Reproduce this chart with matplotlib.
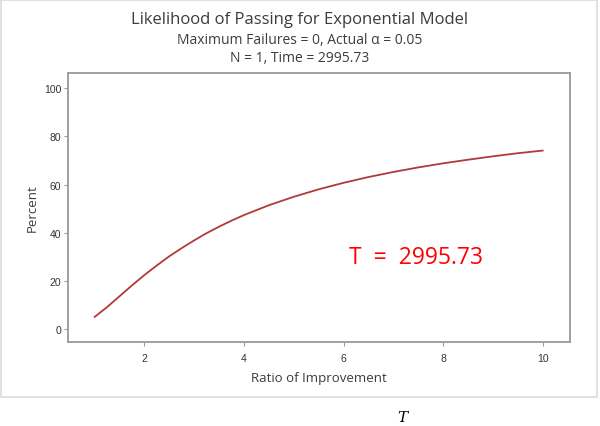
import matplotlib
matplotlib.use('Agg')
import matplotlib.pyplot as plt
from matplotlib.patches import Rectangle

ratio = [1.0, 1.25, 1.5, 1.75, 2.0, 2.25, 2.5, 2.75, 3.0, 3.25, 3.5, 3.75, 4.0,
         4.5, 5.0, 5.5, 6.0, 6.5, 7.0, 7.5, 8.0, 8.5, 9.0, 9.5, 10.0]
percent = [5.0, 9.1, 13.6, 18.1, 22.4, 26.4, 30.2, 33.6, 36.8, 39.8, 42.5, 45.0, 47.3,
           51.4, 54.9, 58.0, 60.7, 63.1, 65.2, 67.1, 68.8, 70.3, 71.7, 73.0, 74.1]
x_ticks = [2, 4, 6, 8, 10]
y_ticks = [0, 20, 40, 60, 80, 100]

title_font = ['Open Sans', 'DejaVu Sans']
tick_font = ['Liberation Sans', 'DejaVu Sans']
grey = '#999999'
text_col = '#3c3c3c'

fig = plt.figure(figsize=(6, 4.27), dpi=100)
ax = fig.add_axes([68.3 / 600, 1 - 342.7 / 427, (570 - 68.3) / 600, (342.7 - 74.3) / 427])

# outer frame of the graph window
fig.patches.append(Rectangle((1 / 600, 1 - 398 / 427), 596 / 600, 397 / 427,
                             transform=fig.transFigure, fill=False,
                             edgecolor='#dcdcdc', linewidth=1.2))

ax.plot(ratio, percent, color='#b03a3a', linewidth=1.3)

ax.set_xlim(0.47, 10.55)
ax.set_ylim(-5.3, 106.2)
ax.set_xticks(x_ticks)
ax.set_yticks(y_ticks)
ax.set_xticklabels([str(v) for v in x_ticks], family=tick_font, fontsize=7.5, color='#333333')
ax.set_yticklabels([str(v) for v in y_ticks], family=tick_font, fontsize=7.5, color='#333333')
ax.tick_params(length=3, width=0.8, color=grey, pad=2)
ax.tick_params(axis='x', pad=5)
for s in ax.spines.values():
    s.set_color(grey)
    s.set_linewidth(1.3)

ax.set_xlabel('Ratio of Improvement', family=title_font, fontsize=9.5, color=text_col, labelpad=6)
ax.set_ylabel('Percent', family=title_font, fontsize=9.5, color=text_col, labelpad=4)

fig.text(0.5, 1 - 20.5 / 427, 'Likelihood of Passing for Exponential Model', family=title_font,
         fontsize=12, color=text_col, ha='center', va='center')
fig.text(0.5, 1 - 41 / 427, 'Maximum Failures = 0, Actual α = 0.05', family=title_font,
         fontsize=10, color=text_col, ha='center', va='center')
fig.text(0.5, 1 - 59 / 427, 'N = 1, Time = 2995.73', family=title_font,
         fontsize=10, color=text_col, ha='center', va='center')

ax.text(6.1, 30, 'T  =  2995.73', family=title_font, fontsize=16.5, color='red',
        ha='left', va='center')

fig.text(402 / 600, 1 - 418 / 427, 'T', family='DejaVu Serif', style='italic',
         fontsize=11, color='black', ha='center', va='center')

fig.savefig('out.png', dpi=100)
